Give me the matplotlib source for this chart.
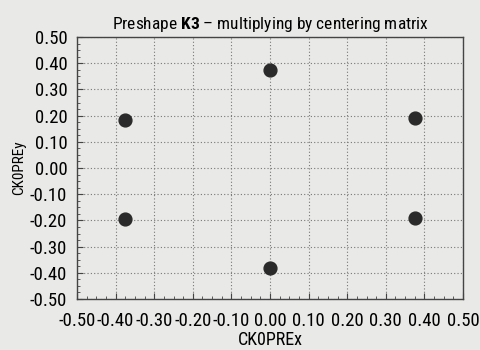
import matplotlib
matplotlib.use("Agg")
import matplotlib.pyplot as plt
from matplotlib.ticker import MultipleLocator
from matplotlib import font_manager

names = {f.name for f in font_manager.fontManager.ttflist}
prefs = ['Liberation Sans Narrow', 'Arial Narrow', 'Roboto Condensed', 'IBM Plex Sans Condensed',
         'Encode Sans Condensed', 'PT Sans Narrow', 'Archivo Narrow', 'Liberation Sans']
narrow = next(p for p in prefs if p in names)
plt.rcParams['font.family'] = [narrow, 'DejaVu Sans']
plt.rcParams['mathtext.fontset'] = 'custom'
plt.rcParams['mathtext.rm'] = narrow
plt.rcParams['mathtext.bf'] = narrow + ':bold'

x_vals = [0.00, 0.00, -0.375, -0.375, 0.375, 0.375]
y_vals = [0.375, -0.38, 0.185, -0.195, 0.19, -0.19]
ticks = [-0.5, -0.4, -0.3, -0.2, -0.1, 0.0, 0.1, 0.2, 0.3, 0.4, 0.5]
tick_labels = ["%.2f" % t for t in ticks]

bg = '#e9e9e7'
fig = plt.figure(figsize=(4.81, 3.5), dpi=100, facecolor=bg)
ax = fig.add_axes([77/481, 1-299/350, (463-77)/481, (299-37)/350])
ax.set_facecolor(bg)
ax.scatter(x_vals, y_vals, s=85, color='#2a2a2a', zorder=3)
ax.set_xlim(-0.5, 0.5)
ax.set_ylim(-0.5, 0.5)
ax.set_xticks(ticks)
ax.set_xticklabels(tick_labels)
ax.set_yticks(ticks)
ax.set_yticklabels(tick_labels)
ax.xaxis.set_minor_locator(MultipleLocator(0.025))
ax.yaxis.set_minor_locator(MultipleLocator(0.025))
ax.tick_params(which='major', direction='in', length=4, labelsize=13.5, color='#444444')
ax.tick_params(axis='x', which='major', pad=9)
ax.tick_params(axis='y', which='major', pad=7)
ax.tick_params(which='minor', direction='in', length=2, color='#444444')
ax.grid(True, which='major', linestyle=(0, (1, 2)), color='#777777', linewidth=0.8)
for s in ax.spines.values():
    s.set_color('#444444')
    s.set_linewidth(1.0)
ax.set_xlabel('CK0PREx', fontsize=13, labelpad=1)
ax.set_ylabel('CK0PREy', fontsize=11, labelpad=3)
ax.set_title(r'Preshape $\bf{K3}$ – multiplying by centering matrix', fontsize=12.5, pad=6)
fig.savefig('out.png', dpi=100, facecolor=bg)
